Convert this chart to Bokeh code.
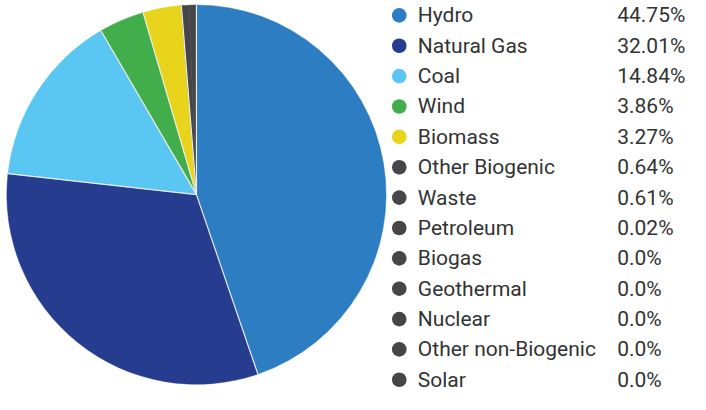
import math
from bokeh.plotting import figure
from bokeh.models import Range1d, ColumnDataSource
from bokeh.core.properties import value
from bokeh.embed import file_html
from bokeh.resources import INLINE

categories = ["Hydro", "Natural Gas", "Coal", "Wind", "Biomass", "Other Biogenic",
              "Waste", "Petroleum", "Biogas", "Geothermal", "Nuclear",
              "Other non-Biogenic", "Solar"]
shares = [44.75, 32.01, 14.84, 3.86, 3.27, 0.64, 0.61, 0.02, 0.0, 0.0, 0.0, 0.0, 0.0]
colors = ["#2c7dc2", "#263d8f", "#5ac7f3", "#41ae4b", "#e8d41b", "#464648",
          "#464648", "#464648", "#464648", "#464648", "#464648", "#464648", "#464648"]

W, H = 690, 394
RW, RH = 706, 410
p = figure(width=W, height=H, output_backend="svg", toolbar_location=None,
           x_range=Range1d(0, RW), y_range=Range1d(0, RH), min_border=0)
p.axis.visible = False
p.grid.visible = False
p.outline_line_color = None
p.background_fill_color = "white"
p.border_fill_color = "white"

# pie
cx, cy, r = 200.5, RH - 202, 194
total = sum(shares)
starts, ends = [], []
acc = 0.0
for v in shares:
    starts.append(math.pi / 2 - acc / total * 2 * math.pi)
    acc += v
    ends.append(math.pi / 2 - acc / total * 2 * math.pi)
idx = [i for i, v in enumerate(shares) if v > 0]
src = ColumnDataSource(dict(
    start=[starts[i] for i in idx], end=[ends[i] for i in idx],
    color=[colors[i] for i in idx]))
p.wedge(x=cx, y=cy, radius=r, start_angle="start", end_angle="end",
        direction="clock", fill_color="color", line_color="color",
        line_width=0.5, source=src)

# separators between differently coloured slices
sep_angles = []
for k, i in enumerate(idx):
    prev = idx[k - 1]
    if colors[prev] != colors[i]:
        sep_angles.append(starts[i])
r_px = r * W / RW
p.ray(x=cx, y=cy, length=r_px, length_units="screen", angle=sep_angles,
      line_color="#ececec", line_width=1.2)

# legend
ys = [RH - (15.5 + 31.6 * i) for i in range(len(categories))]
labels_pct = [f"{v}%" for v in shares]
lsrc = ColumnDataSource(dict(y=ys, cat=categories, pct=labels_pct, color=colors))
p.circle(x=408, y="y", radius=7.5, fill_color="color", line_color=None, source=lsrc)
font = value("Roboto")
p.text(x=427, y="y", text="cat", text_font=font, text_font_size="21px",
       text_color="#333333", text_baseline="middle", source=lsrc)
p.text(x=631, y="y", text="pct", text_font=font, text_font_size="21px",
       text_color="#333333", text_baseline="middle", source=lsrc)

open("out.html", "w").write(file_html(p, INLINE))
